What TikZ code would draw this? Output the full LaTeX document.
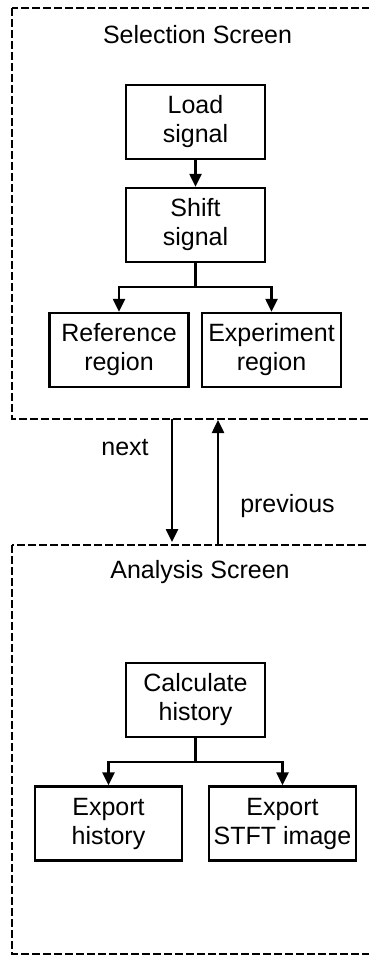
\documentclass[tikz,border=0pt]{standalone}
\usepackage{fontspec}
\setmainfont{Liberation Sans}
\usetikzlibrary{arrows.meta,positioning}

\begin{document}
\begin{tikzpicture}[x=1pt, y=-1pt,
    font=\fontsize{25}{29}\selectfont,
    block/.style={draw, line width=2.5pt, align=center, minimum width=139pt, minimum height=74pt, inner sep=0pt},
    wideblock/.style={block, minimum width=147pt},
    frame/.style={draw, line width=2.5pt, dash pattern=on 8pt off 3pt},
    link/.style={line width=2.5pt, -{Triangle[length=13pt,width=12pt]}}]
    \useasboundingbox (0,0) rectangle (369,956);
    \clip (0,0) rectangle (369,956);

    % Screens
    \draw[frame] (12,8) rectangle (385,419);
    \draw[frame] (12,545) rectangle (385,954);
    \node[anchor=base] (selTitle) at (197.5,43) {Selection Screen};
    \node[anchor=base] (anaTitle) at (200,578) {Analysis Screen};

    % Selection screen
    \node[block] (load) at (195.5,122) {Load\\signal};
    \node[block] (shift) at (195.5,225) {Shift\\signal};
    \node[block] (refReg) at (119,350) {Reference\\region};
    \node[block] (expReg) at (271.5,350) {Experiment\\region};
    \coordinate (shiftSplit) at (195.5,287);

    \draw[link] (load) -- (shift);
    \draw[line width=2.5pt] (shift) -- (shiftSplit);
    \draw[link] (shiftSplit) -| (refReg);
    \draw[link] (shiftSplit) -| (expReg);

    % Between screens
    \coordinate (nextStart) at (172,419);
    \coordinate (nextEnd) at (172,542);
    \coordinate (prevStart) at (218,545);
    \coordinate (prevEnd) at (218,420);
    \draw[link] (nextStart) -- (nextEnd);
    \draw[link] (prevStart) -- (prevEnd);
    \node[anchor=base] (nextLabel) at (125,455) {next};
    \node[anchor=base] (prevLabel) at (287.5,512) {previous};

    % Analysis screen
    \node[block] (calc) at (195.5,700) {Calculate\\history};
    \node[wideblock] (expHist) at (108.5,823.5) {Export\\history};
    \node[wideblock] (expStft) at (282.5,823.5) {Export\\STFT image};
    \coordinate (calcSplit) at (195.5,762);

    \draw[line width=2.5pt] (calc) -- (calcSplit);
    \draw[link] (calcSplit) -| (expHist);
    \draw[link] (calcSplit) -| (expStft);
\end{tikzpicture}
\end{document}
